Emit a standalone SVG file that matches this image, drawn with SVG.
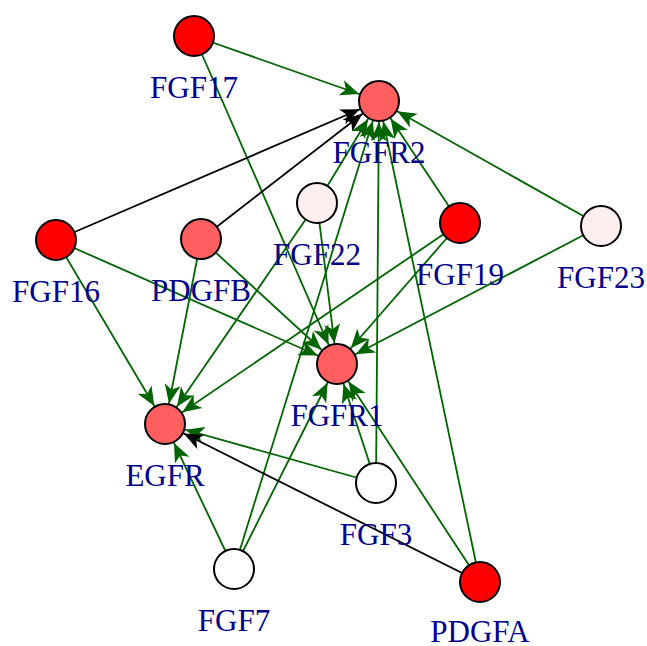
<svg xmlns="http://www.w3.org/2000/svg" width="647" height="646" viewBox="0 0 647 646">
<style>
.e{stroke-width:1.8;fill:none}
.g{stroke:#006400;marker-end:url(#ag)}
.k{stroke:#000000;marker-end:url(#ak)}
.n circle{stroke:#000;stroke-width:2}
.n text{font-family:"Liberation Serif","Times New Roman",serif;font-size:31px;fill:#00008B;text-anchor:middle}
</style>
<defs>
<marker id="ag" markerUnits="userSpaceOnUse" orient="auto" refX="21" refY="0" markerWidth="1" markerHeight="1" overflow="visible">
<path d="M0,0 L-19,-8 L-14,0 L-19,8 Z" fill="#006400"/>
</marker>
<marker id="ak" markerUnits="userSpaceOnUse" orient="auto" refX="21" refY="0" markerWidth="1" markerHeight="1" overflow="visible">
<path d="M0,0 L-19,-8 L-14,0 L-19,8 Z" fill="#000000"/>
</marker>
</defs>
<rect width="647" height="646" fill="#ffffff"/>
<g id="edges">
<line class="e g" x1="194" y1="36" x2="379" y2="101"/>
<line class="e g" x1="194" y1="36" x2="337" y2="364"/>
<line class="e k" x1="56" y1="240" x2="379" y2="101"/>
<line class="e g" x1="56" y1="240" x2="337" y2="364"/>
<line class="e g" x1="56" y1="240" x2="165" y2="424"/>
<line class="e k" x1="201" y1="239" x2="379" y2="101"/>
<line class="e g" x1="201" y1="239" x2="337" y2="364"/>
<line class="e g" x1="201" y1="239" x2="165" y2="424"/>
<line class="e g" x1="317" y1="203" x2="379" y2="101"/>
<line class="e g" x1="317" y1="203" x2="337" y2="364"/>
<line class="e g" x1="317" y1="203" x2="165" y2="424"/>
<line class="e g" x1="460" y1="223" x2="379" y2="101"/>
<line class="e g" x1="460" y1="223" x2="337" y2="364"/>
<line class="e g" x1="460" y1="223" x2="165" y2="424"/>
<line class="e g" x1="601" y1="226" x2="379" y2="101"/>
<line class="e g" x1="601" y1="226" x2="337" y2="364"/>
<line class="e g" x1="376" y1="483" x2="379" y2="101"/>
<line class="e g" x1="376" y1="483" x2="337" y2="364"/>
<line class="e g" x1="376" y1="483" x2="165" y2="424"/>
<line class="e g" x1="234" y1="569" x2="379" y2="101"/>
<line class="e g" x1="234" y1="569" x2="337" y2="364"/>
<line class="e g" x1="234" y1="569" x2="165" y2="424"/>
<line class="e g" x1="480" y1="582" x2="379" y2="101"/>
<line class="e g" x1="480" y1="582" x2="337" y2="364"/>
<line class="e k" x1="480" y1="582" x2="165" y2="424"/>
</g>
<g id="FGF17" class="n"><circle cx="194" cy="36" r="20" fill="#FF0000"/><text x="194" y="98">FGF17</text></g>
<g id="FGFR2" class="n"><circle cx="379" cy="101" r="20" fill="#FF5F5F"/><text x="379" y="163">FGFR2</text></g>
<g id="FGF16" class="n"><circle cx="56" cy="240" r="20" fill="#FF0000"/><text x="56" y="302">FGF16</text></g>
<g id="PDGFB" class="n"><circle cx="201" cy="239" r="20" fill="#FF5F5F"/><text x="201" y="301">PDGFB</text></g>
<g id="FGF22" class="n"><circle cx="317" cy="203" r="20" fill="#FFEEEE"/><text x="317" y="265">FGF22</text></g>
<g id="FGF19" class="n"><circle cx="460" cy="223" r="20" fill="#FF0000"/><text x="460" y="285">FGF19</text></g>
<g id="FGF23" class="n"><circle cx="601" cy="226" r="20" fill="#FFEEEE"/><text x="601" y="288">FGF23</text></g>
<g id="FGFR1" class="n"><circle cx="337" cy="364" r="20" fill="#FF5F5F"/><text x="337" y="426">FGFR1</text></g>
<g id="EGFR" class="n"><circle cx="165" cy="424" r="20" fill="#FF5F5F"/><text x="165" y="486">EGFR</text></g>
<g id="FGF3" class="n"><circle cx="376" cy="483" r="20" fill="#FFFFFF"/><text x="376" y="545">FGF3</text></g>
<g id="FGF7" class="n"><circle cx="234" cy="569" r="20" fill="#FFFFFF"/><text x="234" y="631">FGF7</text></g>
<g id="PDGFA" class="n"><circle cx="480" cy="582" r="20" fill="#FF0000"/><text x="480" y="642">PDGFA</text></g>
</svg>
